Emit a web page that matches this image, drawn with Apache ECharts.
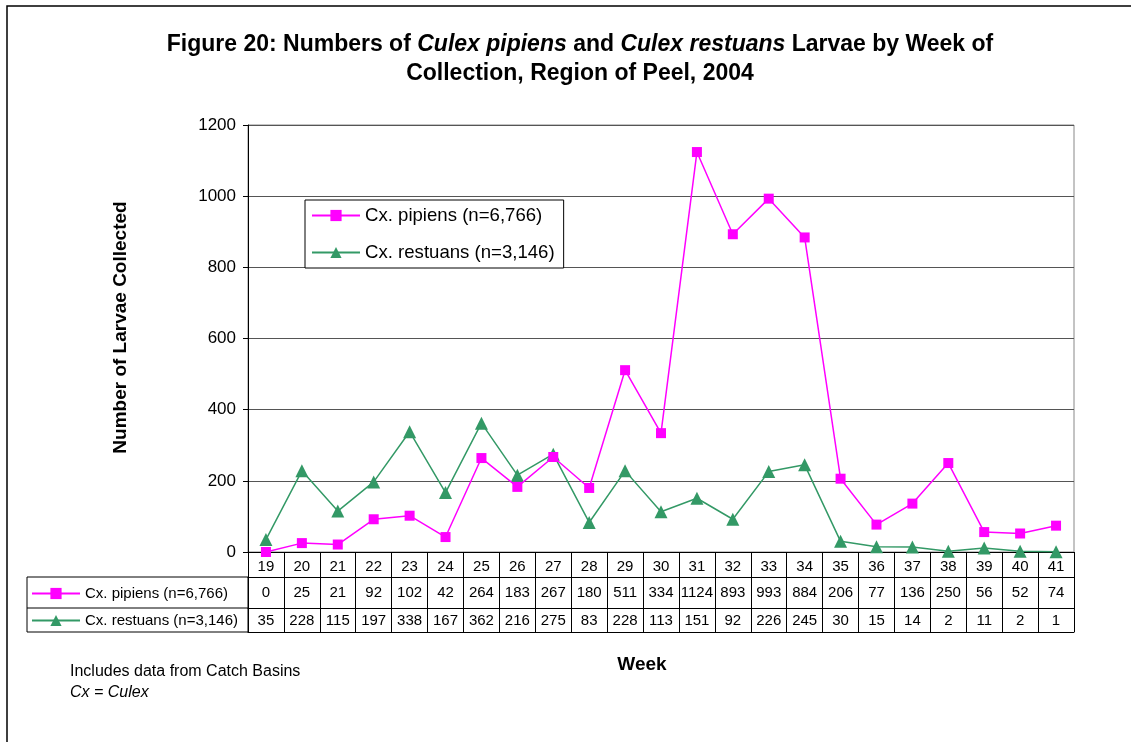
<!DOCTYPE html>
<html>
<head>
<meta charset="utf-8">
<script src="https://cdn.jsdelivr.net/npm/echarts@6/dist/echarts.min.js"></script>
<style>
  html, body { margin: 0; padding: 0; background: #fff; }
  #chart { width: 1131px; height: 742px; }
</style>
</head>
<body>
<div id="chart"></div>
<script>
const weeks = ['19', '20', '21', '22', '23', '24', '25', '26', '27', '28', '29', '30',
  '31', '32', '33', '34', '35', '36', '37', '38', '39', '40', '41'];
const pipiens = [0, 25, 21, 92, 102, 42, 264, 183, 267, 180, 511, 334,
  1124, 893, 993, 884, 206, 77, 136, 250, 56, 52, 74];
const restuans = [35, 228, 115, 197, 338, 167, 362, 216, 275, 83, 228, 113,
  151, 92, 226, 245, 30, 15, 14, 2, 11, 2, 1];
const pipiensName = 'Cx. pipiens (n=6,766)';
const restuansName = 'Cx. restuans (n=3,146)';

const font = 'Arial, "Liberation Sans", sans-serif';
const pink = '#ff00ff';
const green = '#339966';

// plot area in pixels
const plotLeft = 248, plotRight = 1074, plotTop = 125, plotBottom = 552;
// table rows below the axis
const rowWeek = 25, rowPip = 31, rowRes = 24;
const labelLeft = 27;

const chart = echarts.init(document.getElementById('chart'));

const tableAxis = (offset, labels, margin) => ({
  type: 'category',
  data: weeks,
  position: 'bottom',
  offset: offset,
  axisLine: { show: true, lineStyle: { color: '#000', width: 1 } },
  axisTick: { show: false },
  axisLabel: {
    show: !!labels,
    interval: 0,
    margin: margin,
    color: '#000',
    fontFamily: font,
    fontSize: 15,
    formatter: (v, i) => (labels ? String(labels[i]) : '')
  },
  splitLine: { show: false }
});

chart.setOption({
  animation: false,
  backgroundColor: '#fff',
  textStyle: { fontFamily: font },
  title: [
    {
      text: 'Figure 20: Numbers of {i|Culex pipiens} and {i|Culex restuans} Larvae by Week of\nCollection, Region of Peel, 2004',
      left: 575,
      top: 25,
      textAlign: 'center',
      textStyle: {
        fontFamily: font, fontSize: 23, fontWeight: 'bold', color: '#000', lineHeight: 29,
        rich: { i: { fontFamily: font, fontSize: 23, fontWeight: 'bold', fontStyle: 'italic', color: '#000', lineHeight: 29 } }
      }
    },
    {
      text: 'Week',
      left: 637,
      top: 650,
      textAlign: 'center',
      textStyle: { fontFamily: font, fontSize: 19, fontWeight: 'bold', color: '#000' }
    },
    {
      text: 'Includes data from Catch Basins\n{i|Cx = Culex}',
      left: 65,
      top: 656,
      textStyle: {
        fontFamily: font, fontSize: 16, fontWeight: 'normal', color: '#000', lineHeight: 21,
        rich: { i: { fontFamily: font, fontSize: 16, fontStyle: 'italic', color: '#000', lineHeight: 21 } }
      }
    }
  ],
  legend: [
    {
      data: [pipiensName, restuansName],
      orient: 'vertical',
      left: 305,
      top: 200,
      padding: [6, 9, 6, 6],
      itemGap: 18,
      itemWidth: 48,
      itemHeight: 14,
      borderColor: '#000',
      borderWidth: 1,
      backgroundColor: '#fff',
      textStyle: { fontFamily: font, fontSize: 18.6, color: '#000' }
    },
    {
      data: [pipiensName, restuansName],
      orient: 'vertical',
      left: labelLeft + 4,
      top: 586,
      padding: 0,
      itemGap: 12,
      itemWidth: 48,
      itemHeight: 14,
      selectedMode: false,
      textStyle: { fontFamily: font, fontSize: 15, color: '#000' }
    }
  ],
  grid: {
    left: plotLeft,
    right: 1131 - plotRight,
    top: plotTop,
    bottom: 742 - plotBottom,
    show: true,
    borderColor: '#888',
    borderWidth: 1,
    backgroundColor: '#fff'
  },
  xAxis: [
    {
      type: 'category',
      data: weeks,
      position: 'bottom',
      boundaryGap: true,
      axisLine: { show: true, lineStyle: { color: '#000', width: 1 } },
      axisTick: { show: true, interval: 0, length: rowWeek + rowPip + rowRes, lineStyle: { color: '#000' } },
      axisLabel: { interval: 0, margin: 7, color: '#000', fontFamily: font, fontSize: 15 },
      splitLine: { show: false }
    },
    tableAxis(rowWeek, pipiens, 8),
    tableAxis(rowWeek + rowPip, restuans, 5),
    tableAxis(rowWeek + rowPip + rowRes, null, 0)
  ],
  yAxis: {
    type: 'value',
    min: 0,
    max: 1200,
    interval: 200,
    name: 'Number of Larvae Collected',
    nameLocation: 'middle',
    nameGap: 118,
    nameTextStyle: { fontFamily: font, fontSize: 19, fontWeight: 'bold', color: '#000', padding: [0, 0, 0, 22] },
    axisLine: { show: true, lineStyle: { color: '#000', width: 1 } },
    axisTick: { show: true, length: 5, lineStyle: { color: '#000' } },
    axisLabel: { margin: 12, color: '#000', fontFamily: font, fontSize: 17, formatter: (v) => String(v) },
    splitLine: { show: true, lineStyle: { color: '#555', width: 1 } }
  },
  series: [
    {
      name: pipiensName,
      type: 'line',
      data: pipiens,
      z: 4,
      symbol: 'rect',
      symbolSize: 10,
      lineStyle: { color: pink, width: 1.5 },
      itemStyle: { color: pink }
    },
    {
      name: restuansName,
      type: 'line',
      data: restuans,
      z: 3,
      symbol: 'triangle',
      symbolSize: 13,
      lineStyle: { color: green, width: 1.5 },
      itemStyle: { color: green }
    }
  ],
  graphic: [
    {
      type: 'rect',
      shape: { x: 7, y: 6, width: 1300, height: 900 },
      style: { fill: 'none', stroke: '#000', lineWidth: 1.5 },
      silent: true
    },
    {
      type: 'rect',
      shape: { x: labelLeft, y: plotBottom + rowWeek, width: plotLeft - labelLeft, height: rowPip + rowRes },
      style: { fill: 'none', stroke: '#000', lineWidth: 1 },
      silent: true
    },
    {
      type: 'line',
      shape: { x1: labelLeft, y1: plotBottom + rowWeek + rowPip, x2: plotLeft, y2: plotBottom + rowWeek + rowPip },
      style: { stroke: '#000', lineWidth: 1 },
      silent: true
    }
  ]
});
</script>
</body>
</html>
